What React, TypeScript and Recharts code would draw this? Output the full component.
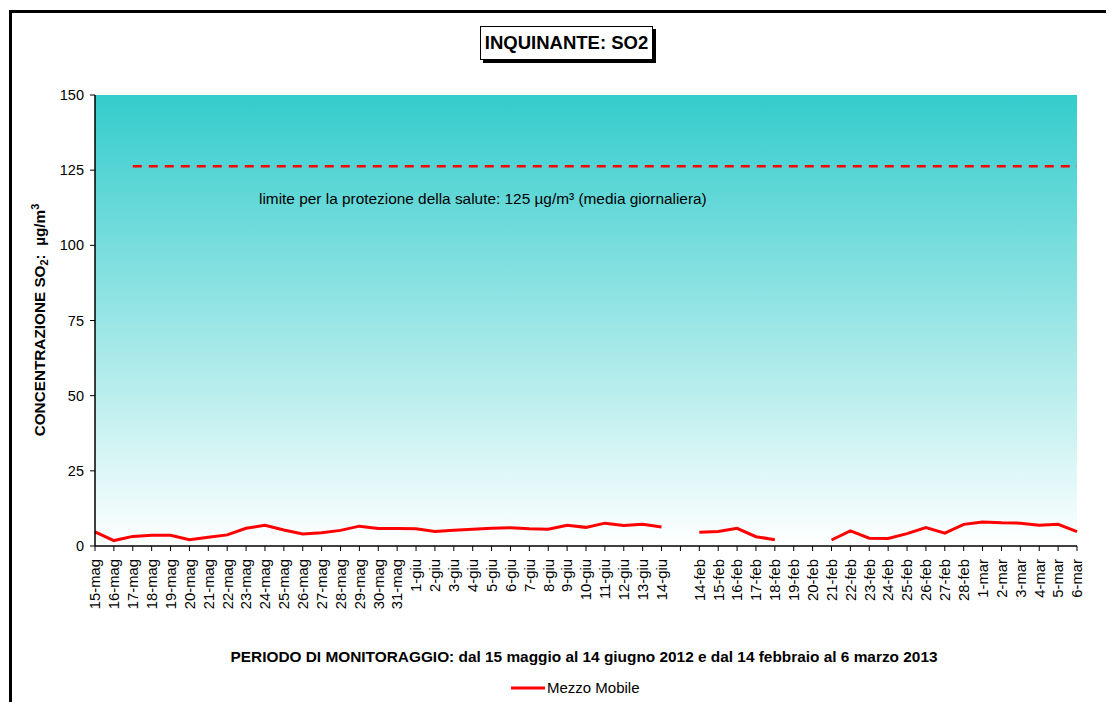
import React from "react";
import { LineChart, Line, XAxis, YAxis, CartesianGrid } from "recharts";

const categories: string[] = [
  "15-mag","16-mag","17-mag","18-mag","19-mag","20-mag","21-mag","22-mag","23-mag","24-mag",
  "25-mag","26-mag","27-mag","28-mag","29-mag","30-mag","31-mag",
  "1-giu","2-giu","3-giu","4-giu","5-giu","6-giu","7-giu","8-giu","9-giu","10-giu","11-giu","12-giu","13-giu","14-giu",
  " ",
  "14-feb","15-feb","16-feb","17-feb","18-feb","19-feb","20-feb","21-feb","22-feb","23-feb","24-feb","25-feb","26-feb","27-feb","28-feb",
  "1-mar","2-mar","3-mar","4-mar","5-mar","6-mar",
];

const mezzoMobile: (number | null)[] = [
  4.7, 1.8, 3.2, 3.6, 3.6, 2.1, 2.9, 3.7, 5.9, 6.9,
  5.3, 4.0, 4.4, 5.2, 6.6, 5.8, 5.8,
  5.7, 4.8, 5.2, 5.6, 5.9, 6.1, 5.7, 5.6, 6.9, 6.2, 7.6, 6.8, 7.2, 6.3,
  null,
  4.6, 4.8, 5.9, 3.1, 2.1, null, null, 2.0, 5.0, 2.6, 2.5, 4.1, 6.1, 4.3, 7.2,
  8.0, 7.7, 7.6, 6.9, 7.2, 4.8,
];

const limitValue = 126.3;
const limitStartIndex = 2;
const yTicks = [0, 25, 50, 75, 100, 125, 150];

const data = categories.map((day, i) => ({
  day,
  so2: mezzoMobile[i],
  limite: i >= limitStartIndex ? limitValue : null,
}));

const FONT = "'Liberation Sans', Arial, Helvetica, sans-serif";

const XTick = (props: any) => {
  const { x, y, payload } = props;
  return (
    <text
      x={x}
      y={y}
      dy="0.36em"
      textAnchor="end"
      transform={`rotate(-90 ${x} ${y})`}
      fontSize={14.8}
      fontFamily={FONT}
      fill="#000"
    >
      {payload.value}
    </text>
  );
};

export default function App() {
  return (
    <div style={{ position: "relative", width: 1106, height: 694, overflow: "hidden", fontFamily: FONT, background: "#fff" }}>
      <div
        style={{
          position: "absolute",
          left: 1,
          top: 2,
          width: 1200,
          height: 900,
          borderTop: "3px solid #000",
          borderLeft: "3px solid #000",
          boxSizing: "border-box",
        }}
      />
      <div style={{ position: "absolute", left: 0, top: 0 }}>
        <LineChart
          width={1106}
          height={694}
          data={data}
          margin={{ top: 87, right: 37, bottom: 96, left: 27 }}
        >
          <defs>
            <linearGradient id="bgGrad" x1="0" y1="0" x2="0" y2="1">
              <stop offset="0%" stopColor="#34CCCC" />
              <stop offset="100%" stopColor="#FFFFFF" />
            </linearGradient>
          </defs>
          <CartesianGrid fill="url(#bgGrad)" horizontal={false} vertical={false} />
          <XAxis
            dataKey="day"
            interval={0}
            tick={<XTick />}
            tickSize={5}
            tickMargin={8}
            height={60}
            axisLine={{ stroke: "#000", strokeWidth: 1.5 }}
            tickLine={{ stroke: "#000", strokeWidth: 1 }}
          />
          <XAxis
            xAxisId="top"
            dataKey="day"
            orientation="top"
            height={0}
            tick={false}
            tickLine={false}
            axisLine={{ stroke: "#2a3a3a", strokeWidth: 1.5 }}
          />
          <YAxis
            domain={[0, 150]}
            ticks={yTicks}
            interval={0}
            width={60}
            tickSize={5}
            tickMargin={6}
            tick={{ fill: "#000", fontSize: 14.5, fontFamily: FONT }}
            axisLine={{ stroke: "#000", strokeWidth: 1.5 }}
            tickLine={{ stroke: "#000", strokeWidth: 1 }}
          />
          <YAxis
            yAxisId="right"
            orientation="right"
            domain={[0, 150]}
            width={0}
            tick={false}
            tickLine={false}
            axisLine={{ stroke: "#1a2626", strokeWidth: 2 }}
          />
          <Line
            dataKey="limite"
            stroke="#FF0000"
            strokeWidth={2.5}
            strokeDasharray="9 7"
            dot={false}
            activeDot={false}
            isAnimationActive={false}
            connectNulls={false}
          />
          <Line
            dataKey="so2"
            name="Mezzo Mobile"
            stroke="#FF0000"
            strokeWidth={3}
            dot={false}
            activeDot={false}
            isAnimationActive={false}
            connectNulls={false}
          />
        </LineChart>
      </div>

      <div
        style={{
          position: "absolute",
          left: 472,
          top: 18,
          width: 171,
          height: 32,
          border: "1px solid #000",
          boxShadow: "3px 3px 0 #000",
          background: "#fff",
          display: "flex",
          alignItems: "center",
          justifyContent: "center",
          fontWeight: "bold",
          fontSize: 18.5,
          whiteSpace: "nowrap",
        }}
      >
        INQUINANTE: SO2
      </div>

      <div
        style={{
          position: "absolute",
          left: 251,
          top: 181,
          fontSize: 15.4,
          whiteSpace: "nowrap",
          lineHeight: "20px",
        }}
      >
        limite per la protezione della salute: 125 µg/m³ (media giornaliera)
      </div>

      <div
        style={{
          position: "absolute",
          left: 32,
          top: 312,
          width: 0,
          height: 0,
        }}
      >
        <div
          style={{
            position: "absolute",
            left: 0,
            top: 0,
            transform: "translate(-50%, -50%) rotate(-90deg)",
            fontWeight: "bold",
            fontSize: 15.3,
            whiteSpace: "nowrap",
            lineHeight: "20px",
          }}
        >
          CONCENTRAZIONE SO<sub style={{ fontSize: 11, verticalAlign: "-3px", lineHeight: 0 }}>2</sub>:&nbsp;&nbsp;µg/m<sup style={{ fontSize: 11, lineHeight: 0 }}>3</sup>
        </div>
      </div>

      <div
        style={{
          position: "absolute",
          left: 0,
          width: 1152,
          top: 639,
          textAlign: "center",
          fontWeight: "bold",
          fontSize: 15.4,
          whiteSpace: "nowrap",
          lineHeight: "20px",
        }}
      >
        PERIODO DI MONITORAGGIO: dal 15 maggio al 14 giugno 2012 e dal 14 febbraio al 6 marzo 2013
      </div>

      <div
        style={{
          position: "absolute",
          left: 503,
          top: 670,
          display: "flex",
          alignItems: "center",
          fontSize: 15,
          whiteSpace: "nowrap",
          lineHeight: "20px",
        }}
      >
        <svg width={36} height={20} style={{ display: "block" }}>
          <line x1={0} y1={10} x2={34} y2={10} stroke="#FF0000" strokeWidth={3} />
        </svg>
        <span>Mezzo Mobile</span>
      </div>
    </div>
  );
}
